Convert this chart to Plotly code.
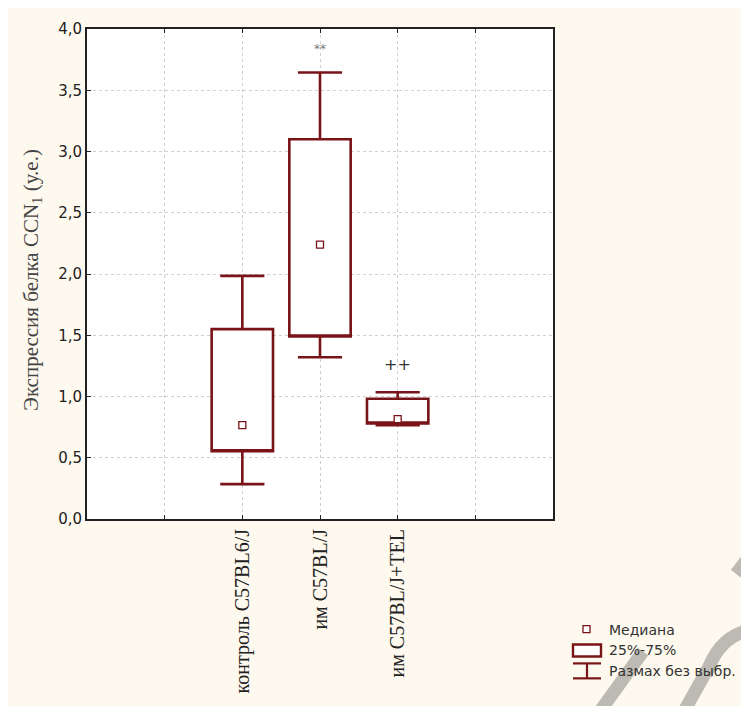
import plotly.graph_objects as go

# ---- data ----
groups = ["контроль C57BL6/J", "им C57BL/J", "им C57BL/J+TEL"]
positions = [1, 2, 3]
whisker_low = [0.285, 1.32, 0.765]
q1_vals = [0.553, 1.49, 0.78]
median_vals = [0.767, 2.24, 0.815]
q3_vals = [1.55, 3.10, 0.982]
whisker_high = [1.985, 3.645, 1.035]
sig_labels = ["", "**", "++"]
sig_y = [None, 3.84, 1.26]
y_ticks = [0, 0.5, 1.0, 1.5, 2.0, 2.5, 3.0, 3.5, 4.0]
y_title = "Экспрессия белка CCN<sub>1</sub> (у.е.)"

# page offset of the figure (body margin) and plot area in page pixels
OFF = 8
W, H = 749 - OFF, 706 - OFF
L, R, T, B = 87, 553, 27, 519
MAROON = "#781418"
GRID = "#cfcfcf"

def px(x):
    return (x - L) / (R - L)

def py(y):
    return (B - y) / (B - T)

fig = go.Figure()

fig.add_trace(go.Box(
    x=positions, q1=q1_vals, median=q1_vals, q3=q3_vals,
    lowerfence=whisker_low, upperfence=whisker_high,
    width=0.79, whiskerwidth=0.72,
    fillcolor="white", line=dict(color=MAROON, width=2.6),
    boxpoints=False, showlegend=False, hoverinfo="skip",
))

fig.add_trace(go.Scatter(
    x=positions, y=median_vals, mode="markers",
    marker=dict(symbol="square", size=7, color="white",
                line=dict(color=MAROON, width=1.3)),
    showlegend=False, hoverinfo="skip",
))

for xv, lab, yv in zip(positions, sig_labels, sig_y):
    if lab:
        fig.add_annotation(
            x=xv, y=yv, text=lab, showarrow=False,
            font=dict(family="DejaVu Sans", size=12 if lab == "**" else 16,
                      color="#7a7a7a" if lab == "**" else "#333333"),
        )

# y-axis title as rotated annotation
fig.add_annotation(xref="paper", yref="paper", x=px(32), y=py(279), text=y_title,
                   textangle=-90, showarrow=False, xanchor="center", yanchor="middle",
                   font=dict(family="Liberation Serif", size=21, color="#444444"))

shapes = []
# watermark strokes
wm = "#bcbab2"
for (x0, y0, x1, y1) in [(600, 712, 643, 652), (684, 712, 712, 662), (736, 574, 753, 552)]:
    shapes.append(dict(type="line", xref="paper", yref="paper", x0=px(x0), y0=py(y0), x1=px(x1), y1=py(y1),
                       line=dict(color=wm, width=13), layer="below"))
shapes.append(dict(type="path", xref="paper", yref="paper",
                   path=f"M {px(706)},{py(676)} Q {px(718)},{py(636)} {px(752)},{py(630)}",
                   line=dict(color=wm, width=13), layer="below"))

# legend symbols
shapes.append(dict(type="rect", xref="paper", yref="paper", x0=px(583), x1=px(590), y0=py(633), y1=py(626),
                   fillcolor="white", line=dict(color=MAROON, width=1.3)))
shapes.append(dict(type="rect", xref="paper", yref="paper", x0=px(573), x1=px(601), y0=py(657), y1=py(645),
                   fillcolor="white", line=dict(color=MAROON, width=2.4)))
for (x0, y0, x1, y1) in [(573, 664, 601, 664), (587, 664, 587, 679), (573, 679, 601, 679)]:
    shapes.append(dict(type="line", xref="paper", yref="paper", x0=px(x0), y0=py(y0), x1=px(x1), y1=py(y1),
                       line=dict(color=MAROON, width=2.2)))

for txt, yy in [("Медиана", 630), ("25%-75%", 651), ("Размах без выбр.", 672)]:
    fig.add_annotation(xref="paper", yref="paper", x=px(607), y=py(yy), text=txt,
                       showarrow=False, xanchor="left", yanchor="middle",
                       font=dict(family="DejaVu Sans", size=14, color="#333333"))

fig.update_layout(
    width=W, height=H,
    margin=dict(l=L - OFF, r=W - (R - OFF), t=T - OFF, b=H - (B - OFF)),
    paper_bgcolor="#fef9ee", plot_bgcolor="white",
    separators=", ",
    shapes=shapes,
    showlegend=False,
)

fig.update_xaxes(
    range=[-1, 5], tickmode="array", tickvals=positions, ticktext=groups, tickangle=-90,
    tickfont=dict(family="Liberation Serif", size=20, color="#222222"),
    showgrid=True, gridcolor=GRID, griddash="3px,3px", gridwidth=1,
    minor=dict(tickvals=[0, 4], showgrid=True, gridcolor=GRID, griddash="3px,3px", gridwidth=1,
               ticks="inside", ticklen=4, tickcolor="#222222"),
    showline=True, linecolor="#222222", linewidth=2, mirror="ticks",
    ticks="inside", ticklen=4, tickcolor="#222222", zeroline=False,
)
fig.update_yaxes(
    range=[0, 4], tickvals=y_ticks, tickformat=".1f",
    tickfont=dict(family="DejaVu Sans", size=15, color="#222222"),
    showgrid=True, gridcolor=GRID, griddash="3px,3px", gridwidth=1,
    showline=True, linecolor="#222222", linewidth=2, mirror=True,
    ticks="inside", ticklen=4, tickcolor="#222222", zeroline=False,
)

fig.write_html("out.html")
